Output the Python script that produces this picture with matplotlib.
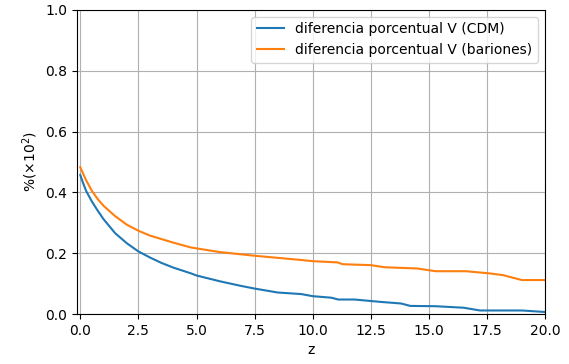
import numpy as np
import matplotlib.pyplot as plt

# valores
z_cdm = [0.0, 0.1, 0.25, 0.5, 0.75, 1.0, 1.5, 2.0, 2.5, 3.0, 3.5, 4.0, 4.76, 5.0, 6.0, 6.9, 7.5,
         8.5, 9.5, 10.0, 10.8, 11.1, 11.8, 12.95, 13.8, 14.2, 15.3, 16.5, 17.2, 19.0, 20.0]
v_cdm = [0.457, 0.435, 0.405, 0.37, 0.34, 0.312, 0.266, 0.233, 0.206, 0.186, 0.168, 0.153,
         0.134, 0.127, 0.108, 0.093, 0.084, 0.071, 0.066, 0.059, 0.054, 0.048, 0.048, 0.040,
         0.035, 0.027, 0.026, 0.021, 0.012, 0.012, 0.007]

z_bar = [0.0, 0.1, 0.25, 0.5, 0.75, 1.0, 1.5, 2.0, 2.5, 3.0, 4.0, 4.76, 6.0, 7.48, 9.5, 10.0,
         11.06, 11.3, 12.5, 13.1, 14.5, 15.3, 16.6, 17.6, 18.2, 19.0, 20.0]
v_bar = [0.483, 0.465, 0.44, 0.405, 0.378, 0.356, 0.322, 0.294, 0.274, 0.258, 0.235, 0.219,
         0.204, 0.192, 0.178, 0.174, 0.170, 0.164, 0.161, 0.154, 0.150, 0.141, 0.141, 0.134,
         0.128, 0.112, 0.112]

fig = plt.figure(figsize=(5.69, 3.64), dpi=100)
ax = fig.add_axes([0.135, 0.137, 0.823, 0.836])
ax.plot(z_cdm, v_cdm, label="diferencia porcentual V (CDM)")
ax.plot(z_bar, v_bar, label="diferencia porcentual V (bariones)")
ax.set_xlim(-0.15, 20)
ax.set_ylim(0, 1)
ax.set_xlabel("z")
ax.set_ylabel(r"%($\times10^2$)")
ax.grid(True)
ax.legend(loc="upper right")
fig.savefig("out.png")
